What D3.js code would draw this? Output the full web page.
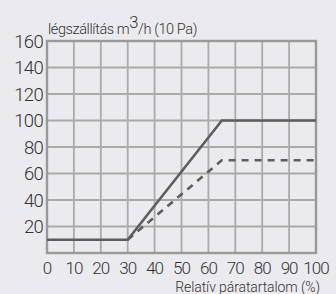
<!DOCTYPE html>
<html><head><meta charset="utf-8">
<script src="https://cdn.jsdelivr.net/npm/d3@7"></script>
<style>body{margin:0;background:#ebeaef;} svg{display:block;}</style>
</head><body>
<svg id="c" width="336" height="294"></svg>
<script>
const xTicks = [0,10,20,30,40,50,60,70,80,90,100];
const yTicks = [20,40,60,80,100,120,140,160];
const solidX = [0,30,65,100];
const solidY = [10,10,100,100];
const dashedX = [30,65,100];
const dashedY = [10,70,70];
const yTitle = "légszállítás m";
const xTitle = "Relatív páratartalom (%)";

const svg = d3.select("#c");
const m = {l:47, r:316, t:41, b:253};
const x = d3.scaleLinear().domain([0,100]).range([m.l, m.r]);
const y = d3.scaleLinear().domain([0,160]).range([m.b, m.t]);
const font = "Roboto, sans-serif";

const g = svg.append("g");
g.selectAll("line.v").data(xTicks).join("line")
  .attr("x1", d=>x(d)).attr("x2", d=>x(d)).attr("y1", m.t).attr("y2", m.b)
  .attr("stroke", "#aaa").attr("stroke-width", 1.8);
g.selectAll("line.h").data(yTicks).join("line")
  .attr("y1", d=>y(d)).attr("y2", d=>y(d)).attr("x1", m.l).attr("x2", m.r)
  .attr("stroke", "#aaa").attr("stroke-width", 1.8);
g.append("rect").attr("x", m.l).attr("y", m.t).attr("width", m.r-m.l).attr("height", m.b-m.t)
  .attr("fill","none").attr("stroke","#999").attr("stroke-width",2.4);

const line = d3.line().x(d=>x(d[0])).y(d=>y(d[1]));
svg.append("path").datum(solidX.map((v,i)=>[v,solidY[i]])).attr("d", line)
  .attr("fill","none").attr("stroke","#5d5d5f").attr("stroke-width",2.6);
svg.append("path").datum(dashedX.map((v,i)=>[v,dashedY[i]])).attr("d", line)
  .attr("fill","none").attr("stroke","#5d5d5f").attr("stroke-width",2.6)
  .attr("stroke-dasharray","7,6");

svg.selectAll("text.y").data(yTicks).join("text")
  .attr("x", 43).attr("y", d=>y(d)+6.5).attr("text-anchor","end")
  .attr("font-family", font).attr("font-weight",300).attr("font-size", 18.5).attr("fill","#333")
  .attr("letter-spacing", -0.7)
  .text(d=>d);
svg.selectAll("text.x").data(xTicks).join("text")
  .attr("x", d=>x(d)).attr("y", 274).attr("text-anchor","middle")
  .attr("font-family", font).attr("font-weight",300).attr("font-size", 17).attr("fill","#333")
  .attr("letter-spacing", -1)
  .text(d=>d);

const t = svg.append("text").attr("x", 48).attr("y", 34)
  .attr("font-family", font).attr("font-weight",300).attr("font-size", 14.5).attr("fill","#333").attr("letter-spacing",-0.4);
t.append("tspan").text(yTitle);
t.append("tspan").attr("dy",-6).attr("font-size",16.5).text("3");
t.append("tspan").attr("dy",6).text("/h (10 Pa)");

svg.append("text").attr("x", 320).attr("y", 292).attr("text-anchor","end")
  .attr("font-family", font).attr("font-weight",300).attr("font-size", 14).attr("fill","#333").attr("letter-spacing",-0.1)
  .text(xTitle);
</script>
</body></html>
